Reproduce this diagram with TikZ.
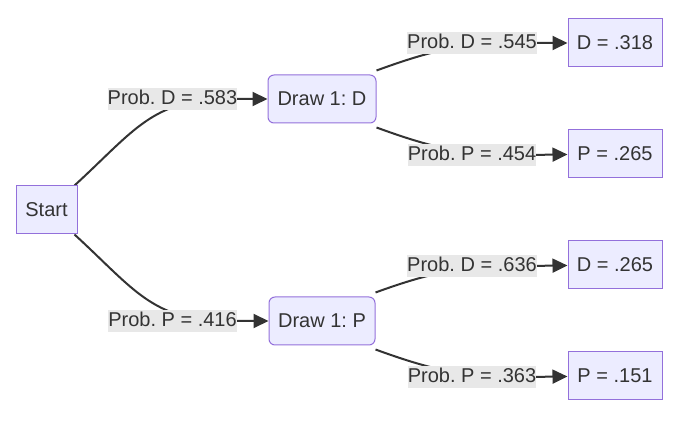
\documentclass[tikz,border=0pt]{standalone}
\usepackage{fontspec}
\setmainfont{Liberation Sans}
\usetikzlibrary{arrows.meta,backgrounds}
\definecolor{nodefill}{HTML}{ECECFF}
\definecolor{nodeline}{HTML}{9370DB}
\definecolor{ink}{HTML}{333333}
\definecolor{lblgray}{HTML}{E8E8E8}
\frenchspacing
\begin{document}
\begin{tikzpicture}[x=1pt,y=-1pt,
  every node/.style={font=\fontsize{20}{24}\selectfont, text=ink},
  box/.style={draw=nodeline, fill=nodefill, line width=1pt, minimum height=48pt, inner sep=0pt},
  rbox/.style={box, rounded corners=6pt},
  lbl/.style={fill=lblgray, inner xsep=0pt, inner ysep=0pt, minimum height=22pt, text height=15pt, text depth=4pt},
  edge/.style={draw=ink, line width=2pt, -{Triangle[length=15pt,width=14pt]}}]
\useasboundingbox (0,0) rectangle (694,435);
\node[box, minimum width=61pt] (s) at (46.5,210) {Start};
\node[rbox, minimum width=108pt] (d1) at (322,99) {Draw 1: D};
\node[rbox, minimum width=106pt] (p1) at (322,321) {Draw 1: P};
\node[box, minimum width=94pt] (dd) at (615,43) {D = .318};
\node[box, minimum width=94pt] (dp) at (615,154) {P = .265};
\node[box, minimum width=94pt] (pd) at (615,265) {D = .265};
\node[box, minimum width=94pt] (pp) at (615,376) {P = .151};
\node[lbl] (l1) at (172.5,99) {Prob. D = .583};
\node[lbl] (l2) at (172.5,321) {Prob. P = .416};
\node[lbl] (l3) at (472,43) {Prob. D = .545};
\node[lbl] (l4) at (472,155) {Prob. P = .454};
\node[lbl] (l5) at (472,266) {Prob. D = .636};
\node[lbl] (l6) at (472,377) {Prob. P = .363};
\begin{pgfonlayer}{background}
\draw[edge] ([xshift=-3pt]s.north east) .. controls +(60,-55) and +(-75,0) .. ([xshift=55pt]l1.center) -- (d1);
\draw[edge] ([xshift=-3pt]s.south east) .. controls +(60,55) and +(-75,0) .. ([xshift=55pt]l2.center) -- (p1);
\draw[edge] ([yshift=4pt]d1.north east) .. controls +(55,-20) and +(-60,0) .. ([xshift=50pt]l3.center) -- (dd);
\draw[edge] ([yshift=-4pt]d1.south east) .. controls +(55,20) and +(-60,0) .. ([xshift=50pt]l4.center) -- (dp);
\draw[edge] ([yshift=4pt]p1.north east) .. controls +(55,-20) and +(-60,0) .. ([xshift=50pt]l5.center) -- (pd);
\draw[edge] ([yshift=-4pt]p1.south east) .. controls +(55,20) and +(-60,0) .. ([xshift=50pt]l6.center) -- (pp);
\end{pgfonlayer}
\end{tikzpicture}
\end{document}
